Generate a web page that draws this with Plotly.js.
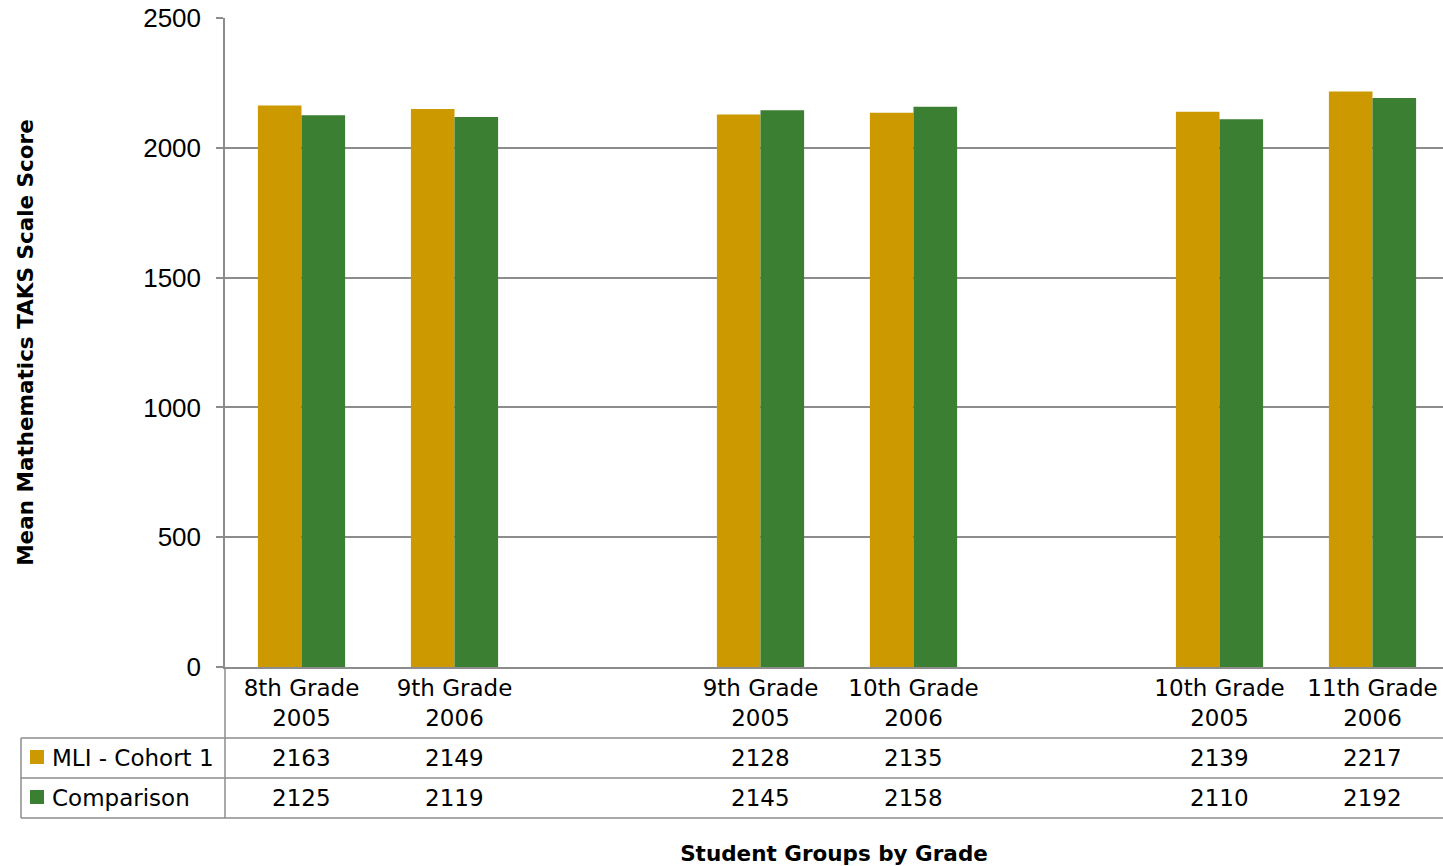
<!DOCTYPE html>
<html>
<head>
<meta charset="utf-8">
<script src="https://cdn.plot.ly/plotly-3.0.1.min.js"></script>
<style>html,body{margin:0;padding:0;background:#fff;}#chart{width:1443px;height:866px;}</style>
</head>
<body>
<div id="chart"></div>
<script>
// Categories (blank entries are the spacer slots between cohorts)
const categories = ["8th Grade<br>2005", "9th Grade<br>2006", " ", "9th Grade<br>2005", "10th Grade<br>2006", "  ", "10th Grade<br>2005", "11th Grade<br>2006"];
const seriesNames = ["MLI - Cohort 1", "Comparison"];
const mliValues = [2163, 2149, null, 2128, 2135, null, 2139, 2217];
const comparisonValues = [2125, 2119, null, 2145, 2158, null, 2110, 2192];
const yTickVals = [0, 500, 1000, 1500, 2000, 2500];

const colors = ["#CC9900", "#3B7F33"];
const gridColor = "#8c8c8c";
const tableFont = {family: "DejaVu Sans", size: 23, color: "#000"};

// geometry helpers (plot area: left 225, right 1443, top 18, bottom 667)
const L = 225, R = 1443, T = 18, B = 667;
const px = x => (x - L) / (R - L);
const py = y => (B - y) / (B - T);
const slotPx = 153; // the last slot runs past the right edge of the picture

const rowY = [py(758), py(798)];
const lineYs = [py(738), py(778), py(818)];

const annotations = [];
const seriesValues = [mliValues, comparisonValues];
seriesValues.forEach((vals, r) => {
  categories.forEach((c, i) => {
    if (vals[i] === null) return;
    annotations.push({x: c, xref: "x", y: rowY[r], yref: "paper", text: String(vals[i]),
      showarrow: false, font: tableFont, xanchor: "center", yanchor: "middle"});
  });
  annotations.push({x: px(50), xref: "paper", y: rowY[r], yref: "paper", text: seriesNames[r],
    showarrow: false, font: tableFont, xanchor: "left", yanchor: "middle"});
});

const shapes = [];
lineYs.forEach(y => shapes.push({type: "line", xref: "paper", yref: "paper", x0: px(21), x1: 1, y0: y, y1: y,
  line: {color: gridColor, width: 1.5}}));
shapes.push({type: "line", xref: "paper", yref: "paper", x0: 0, x1: 0, y0: py(818), y1: 0, line: {color: gridColor, width: 1.5}});
shapes.push({type: "line", xref: "paper", yref: "paper", x0: px(21), x1: px(21), y0: py(818), y1: py(738), line: {color: gridColor, width: 1.5}});
[750, 790].forEach((y, r) => shapes.push({type: "rect", xref: "paper", yref: "paper", x0: px(30), x1: px(44), y0: py(y + 14), y1: py(y),
  fillcolor: colors[r], line: {width: 0}}));

const traces = seriesValues.map((vals, r) => ({
  type: "bar", name: seriesNames[r], x: categories, y: vals,
  marker: {color: colors[r], line: {width: 0}}, hoverinfo: "x+y"
}));

const layout = {
  width: 1443, height: 866,
  margin: {l: L, r: 1443 - R, t: T, b: 866 - B, pad: 0},
  paper_bgcolor: "#fff", plot_bgcolor: "#fff",
  barmode: "group", bargap: 0.43, bargroupgap: 0,
  showlegend: false,
  xaxis: {
    type: "category", categoryorder: "array", categoryarray: categories,
    range: [-0.5, -0.5 + (R - L) / slotPx],
    showgrid: false, ticks: "", showline: true, linecolor: gridColor, linewidth: 1.5,
    tickfont: {family: "DejaVu Sans", size: 23, color: "#000"},
    automargin: false,
    title: {text: "Student Groups by Grade", font: {family: "DejaVu Sans", size: 21.5, color: "#000", weight: "bold"}, standoff: 116}
  },
  yaxis: {
    range: [0, 2500], tickvals: yTickVals, ticktext: yTickVals.map(String),
    showgrid: true, gridcolor: gridColor, gridwidth: 1.5, zeroline: false,
    showline: true, linecolor: gridColor, linewidth: 1.5,
    ticks: "outside", ticklen: 7, tickcolor: gridColor, tickwidth: 1.5,
    ticklabelstandoff: 10,
    tickfont: {family: "Liberation Sans", size: 26, color: "#000"},
    automargin: false,
    title: {text: "Mean Mathematics TAKS Scale Score", font: {family: "DejaVu Sans", size: 21.5, color: "#000", weight: "bold"}, standoff: 104}
  },
  annotations: annotations,
  shapes: shapes
};

Plotly.newPlot("chart", traces, layout, {displayModeBar: false, responsive: false});
</script>
</body>
</html>
